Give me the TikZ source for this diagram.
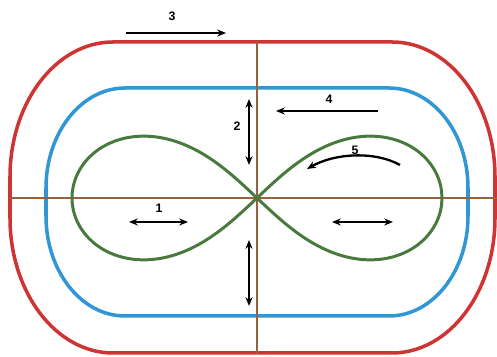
\documentclass[tikz,border=0pt]{standalone}
\usepackage{fontspec}
\setsansfont{Liberation Sans}
\usepackage{tikz}
\usetikzlibrary{arrows.meta, positioning, calc}

\definecolor{trackred}{RGB}{206,52,52}
\definecolor{trackblue}{RGB}{48,150,212}
\definecolor{eightgreen}{RGB}{72,122,62}
\definecolor{axisbrown}{RGB}{152,96,62}

\begin{document}
\begin{tikzpicture}[
        x=0.02cm, y=0.02cm,
        track/.style={line width=2pt},
        axis/.style={draw=axisbrown, line width=1.1pt},
        arrow/.style={-{Stealth[length=5pt, width=4pt]}, line width=1.3pt},
        both/.style={{Stealth[length=5pt, width=4pt]}-{Stealth[length=5pt, width=4pt]}, line width=1.3pt},
        label/.style={font=\sffamily\bfseries\fontsize{7}{8}\selectfont, inner sep=0pt}
    ]
    \useasboundingbox (0,0) rectangle (497,357);

    % centre of the figure
    \coordinate (c) at (257,159);

    % outer track
    \draw[track, trackred] (113,315) -- (392,315)
        arc[start angle=90, end angle=0, x radius=103, y radius=135] -- (495,139)
        arc[start angle=0, end angle=-90, x radius=103, y radius=135] -- (113,4)
        arc[start angle=270, end angle=180, x radius=103, y radius=135] -- (10,180)
        arc[start angle=180, end angle=90, x radius=103, y radius=135] -- cycle;

    % inner track
    \draw[track, trackblue] (125,269) -- (389,269)
        arc[start angle=90, end angle=0, x radius=79, y radius=100] -- (468,141)
        arc[start angle=0, end angle=-90, x radius=79, y radius=100] -- (125,41)
        arc[start angle=270, end angle=180, x radius=79, y radius=100] -- (46,169)
        arc[start angle=180, end angle=90, x radius=79, y radius=100] -- cycle;

    % axes
    \coordinate (axisW) at (10,159);
    \coordinate (axisE) at (497,159);
    \coordinate (axisN) at (257,316);
    \coordinate (axisS) at (257,3);
    \draw[axis] (axisW) -- (axisE);
    \draw[axis] (axisN) -- (axisS);

    % figure eight
    \draw[eightgreen, line width=1.7pt, smooth, samples=120, domain=0:360]
        plot ({257+185*cos(\x)/(1+sin(\x)^2)}, {159+175*sin(\x)*cos(\x)/(1+sin(\x)^2)});

    % arrow ends
    \coordinate (a3s) at (126,324);
    \coordinate (a3e) at (226,324);
    \coordinate (a2s) at (249,192);
    \coordinate (a2e) at (249,258);
    \coordinate (a6s) at (249,51);
    \coordinate (a6e) at (249,117);
    \coordinate (a4s) at (378,246);
    \coordinate (a4e) at (276,246);
    \coordinate (a5s) at (400,192);
    \coordinate (a5e) at (307,188);
    \coordinate (a1s) at (129,135);
    \coordinate (a1e) at (188,135);
    \coordinate (a7s) at (332,135);
    \coordinate (a7e) at (393,135);

    \draw[arrow] (a3s) -- (a3e);
    \draw[both] (a2s) -- (a2e);
    \draw[both] (a6s) -- (a6e);
    \draw[arrow] (a4s) -- (a4e);
    \draw[arrow] (a5s) .. controls (375,206) and (335,204) .. (a5e);
    \draw[both] (a1s) -- (a1e);
    \draw[both] (a7s) -- (a7e);

    % numbers
    \node[label] (n3) at (172,341) {3};
    \node[label] (n2) at (237,231) {2};
    \node[label] (n4) at (329,258) {4};
    \node[label] (n5) at (355,207) {5};
    \node[label] (n1) at (159,149) {1};

\end{tikzpicture}
\end{document}
